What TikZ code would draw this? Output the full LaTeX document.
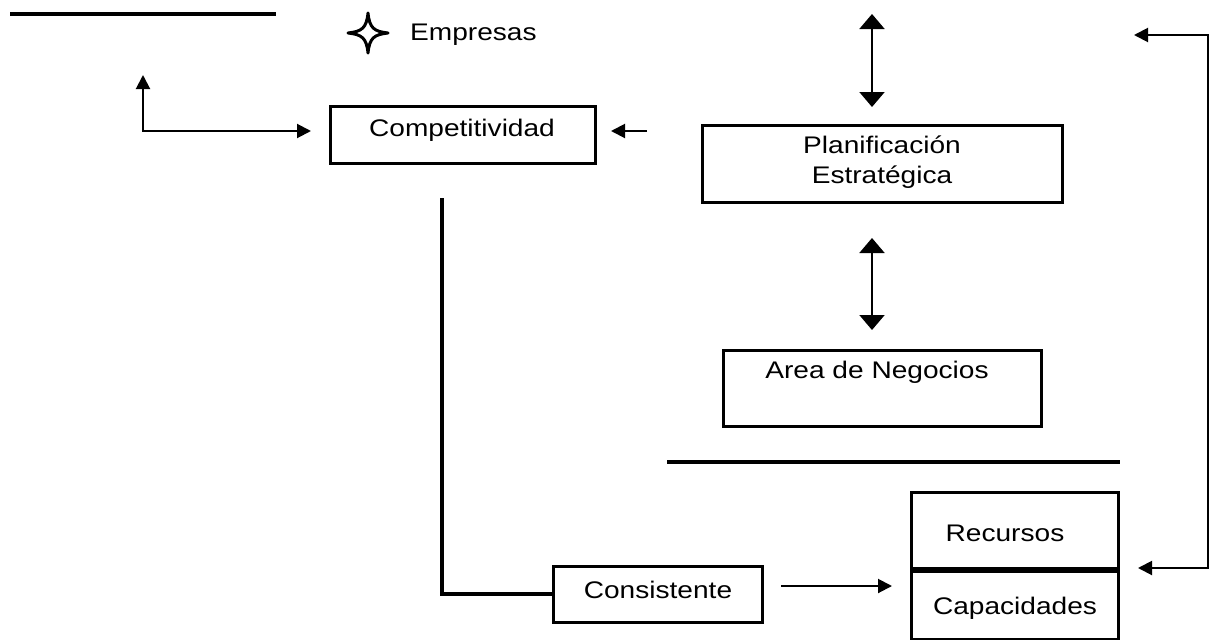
\documentclass[tikz,border=0pt]{standalone}
\usepackage{fontspec}
\usepackage{graphicx}
\setmainfont{Liberation Sans}
\usetikzlibrary{arrows.meta}
\newcommand{\widetxt}[1]{\scalebox{1.17}[1]{#1}}
\begin{document}
\begin{tikzpicture}[x=1pt,y=-1pt,
  box/.style={draw,line width=3pt,inner sep=0pt},
  txt/.style={font=\fontsize{24}{30}\selectfont,inner sep=0pt,align=center},
  rule/.style={line width=4pt},
  conn/.style={line width=2pt,-{Triangle[length=14pt,width=14pt]}},
  bothconn/.style={line width=2pt,{Triangle[length=15pt,width=25pt]}-{Triangle[length=15pt,width=25pt]}}]
\useasboundingbox (0,0) rectangle (1216,640);

% boxes
\node[box,minimum width=265pt,minimum height=57pt] (comp) at (462.5,134.5) {};
\node[txt] (comptxt) at (462,130) {\widetxt{Competitividad}};
\node[box,minimum width=360pt,minimum height=77pt] (plan) at (882,163.5) {};
\node[txt] (plantxt) at (882,162) {\widetxt{Planificación}\\\widetxt{Estratégica}};
\node[box,minimum width=318pt,minimum height=76pt] (area) at (882,388) {};
\node[txt] (areatxt) at (877,372) {\widetxt{Area de Negocios}};
\node[box,minimum width=209pt,minimum height=56pt] (cons) at (657.5,594) {};
\node[txt] (constxt) at (658,590) {\widetxt{Consistente}};
\node[box,minimum width=207pt,minimum height=76pt] (rec) at (1014.5,530) {};
\node[txt] (rectxt) at (1005,533) {\widetxt{Recursos}};
\node[box,minimum width=207pt,minimum height=68pt,anchor=north] (cap) at (rec.south) {};
\node[txt] (captxt) at (1015,608) {\widetxt{Capacidades}};

% title with star
\node[txt,anchor=west] (emp) at (410,35) {\widetxt{Empresas}};
\draw[line width=3pt,line join=round]
  (388,33) .. controls (374,31.5) and (369.5,28) .. (368,13)
  .. controls (366.5,28) and (362,31.5) .. (348,33)
  .. controls (362,34.5) and (366.5,38) .. (368,53)
  .. controls (369.5,38) and (374,34.5) .. (388,33) -- cycle;

% plain rules
\coordinate (r1a) at (10,14);  \coordinate (r1b) at (276,14);
\draw[rule] (r1a) -- (r1b);
\coordinate (r2a) at (667,462); \coordinate (r2b) at (1120,462);
\draw[rule] (r2a) -- (r2b);

% left spine into Consistente
\coordinate (spine) at (442,198);
\draw[line width=3.5pt] (spine) |- (cons.west);

% L-shaped arrow to Competitividad
\coordinate (lup) at (143,75);
\coordinate (lin) at (311,131);
\draw[line width=2pt,{Triangle[length=14pt,width=14pt]}-{Triangle[length=14pt,width=14pt]}] (lup) |- (lin);

% short arrow pointing at Competitividad
\coordinate (sa) at (647,131); \coordinate (sb) at (611,131);
\draw[conn] (sa) -- (sb);

% double arrows above and below Planificación
\coordinate (d1a) at (872,14);  \coordinate (d1b) at (872,107);
\draw[bothconn] (d1a) -- (d1b);
\coordinate (d2a) at (872,238); \coordinate (d2b) at (872,330);
\draw[bothconn] (d2a) -- (d2b);

% right feedback loop
\coordinate (fb1) at (1134,35);
\coordinate (fbc) at (1208,35);
\coordinate (fb2) at (1138,568);
\draw[line width=2pt,{Triangle[length=14pt,width=14pt]}-{Triangle[length=14pt,width=14pt]}] (fb1) -- (fbc) |- (fb2);

% Consistente to Capacidades
\coordinate (ca) at (781,586); \coordinate (cb) at (892,586);
\draw[conn] (ca) -- (cb);
\end{tikzpicture}
\end{document}
